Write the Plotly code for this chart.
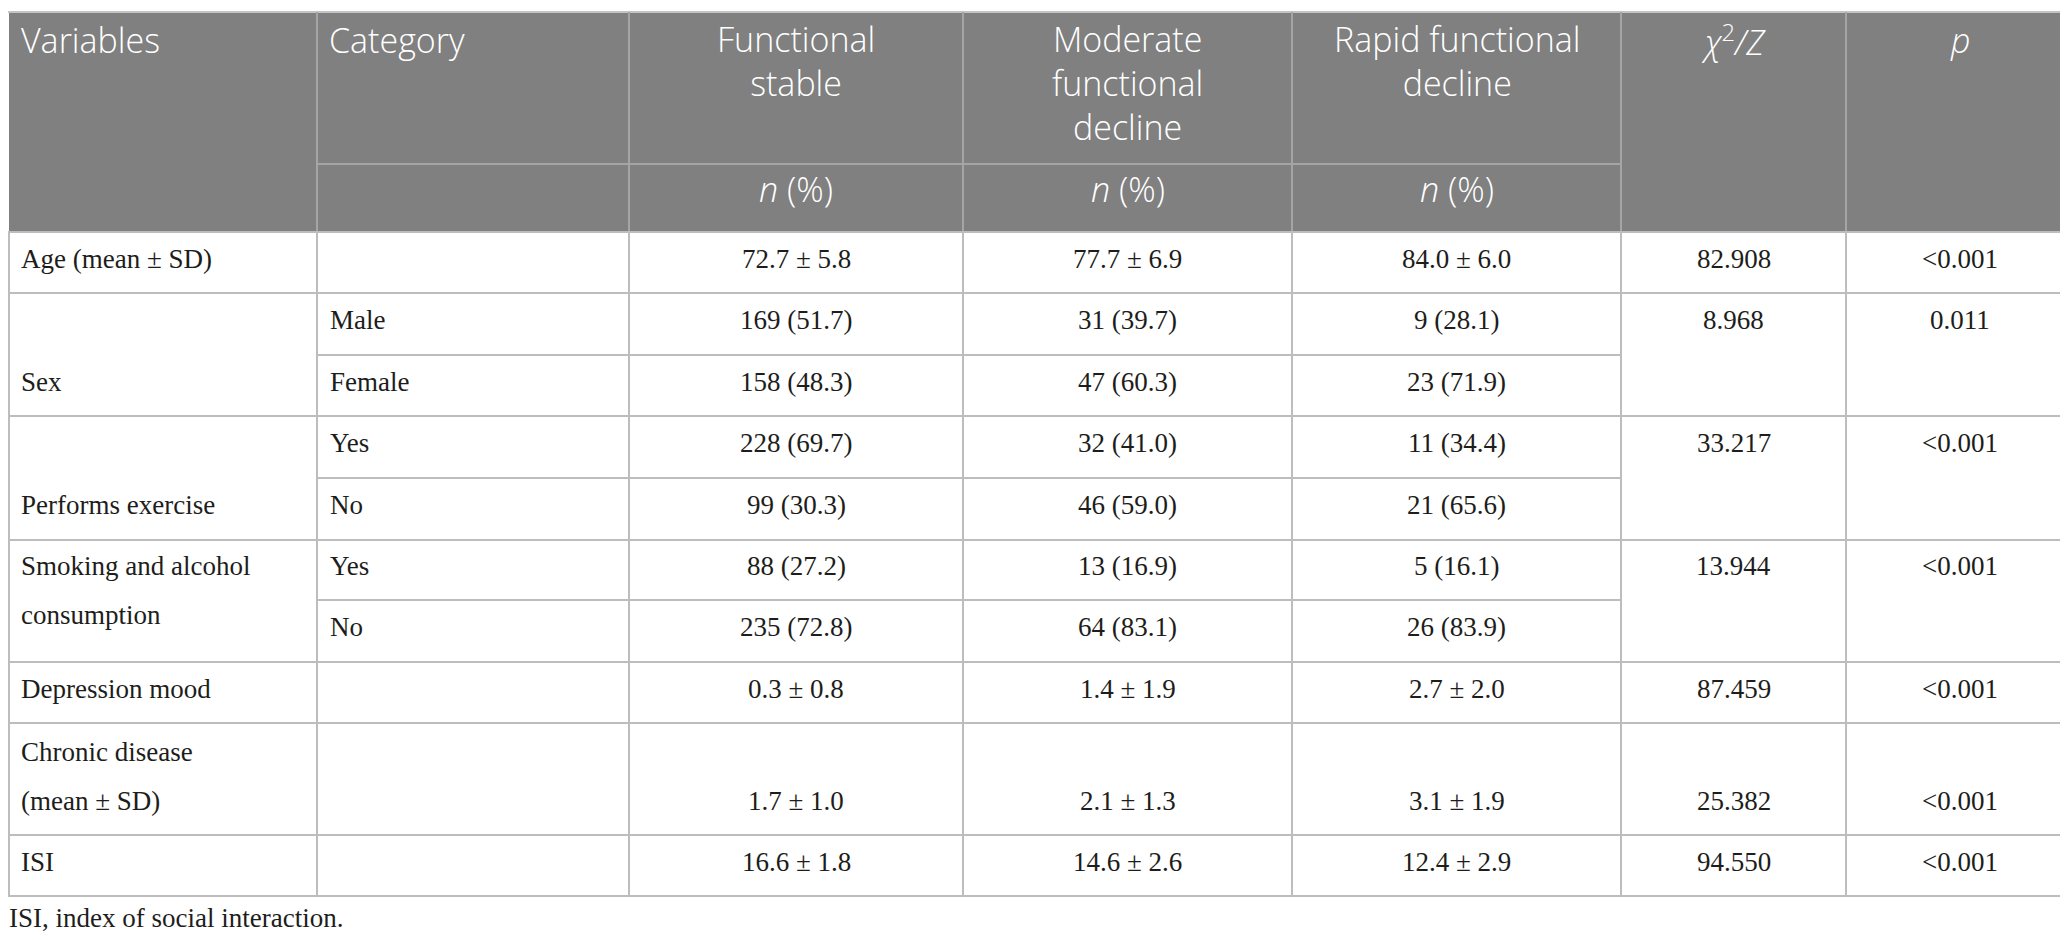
import plotly.graph_objects as go

# table content
variables = [
    "Age (mean ± SD)",
    "Sex",
    "Performs exercise",
    "Smoking and alcohol|consumption",
    "Depression mood",
    "Chronic disease|(mean ± SD)",
    "ISI",
]
categories = [
    [""],
    ["Male", "Female"],
    ["Yes", "No"],
    ["Yes", "No"],
    [""],
    [""],
    [""],
]
stable = ["72.7 ± 5.8", "169 (51.7)", "158 (48.3)", "228 (69.7)", "99 (30.3)",
          "88 (27.2)", "235 (72.8)", "0.3 ± 0.8", "1.7 ± 1.0", "16.6 ± 1.8"]
moderate = ["77.7 ± 6.9", "31 (39.7)", "47 (60.3)", "32 (41.0)", "46 (59.0)",
            "13 (16.9)", "64 (83.1)", "1.4 ± 1.9", "2.1 ± 1.3", "14.6 ± 2.6"]
rapid = ["84.0 ± 6.0", "9 (28.1)", "23 (71.9)", "11 (34.4)", "21 (65.6)",
         "5 (16.1)", "26 (83.9)", "2.7 ± 2.0", "3.1 ± 1.9", "12.4 ± 2.9"]
chi_z = ["82.908", "8.968", "33.217", "13.944", "87.459", "25.382", "94.550"]
p_values = ["<0.001", "0.011", "<0.001", "<0.001", "<0.001", "<0.001", "<0.001"]

headers = [
    "Variables",
    "Category",
    "Functional<br>stable",
    "Moderate<br>functional<br>decline",
    "Rapid functional<br>decline",
    "<i>χ</i><sup>2</sup><i>/Z</i>",
    "<i>p</i>",
]
sub_header = "<i>n</i> (%)"
footnote = "ISI, index of social interaction."

# geometry (pixels)
W, H = 2068, 940
col_x = [1, 309, 621, 955, 1284, 1613, 1838, 2066]
head_top, head_mid, head_bot = 4, 156, 224
row_heights = [61, 62, 61, 62, 62, 60, 62, 61, 112, 61]
line_gap = 49
pad_first, pad_cat = 10, 11

HEAD_BG = "#7f807f"
HEAD_LINE = "#a4a5a4"
BODY_LINE = "#bdbdbd"
TEXT = "#1d1d1b"
head_font = dict(family="Open Sans, Lato, sans-serif", size=34, color="white", weight=300)
body_font = dict(family="Liberation Serif, Times New Roman, serif", size=27, color=TEXT)

row_y = [head_bot]
for h in row_heights:
    row_y.append(row_y[-1] + h)

fig = go.Figure()
fig.add_trace(go.Scatter(x=[0, W], y=[0, H], mode="markers",
                         marker=dict(opacity=0), hoverinfo="skip", showlegend=False))

shapes = []
annotations = []


def hline(x0, x1, y, color):
    shapes.append(dict(type="line", x0=x0, x1=x1, y0=y, y1=y,
                       line=dict(color=color, width=2)))


def vline(x, y0, y1, color):
    shapes.append(dict(type="line", x0=x, x1=x, y0=y0, y1=y1,
                       line=dict(color=color, width=2)))


def text(x, y, s, font, align="center", valign="middle", xshift=0):
    if not s:
        return
    annotations.append(dict(x=x, y=y, text=s, showarrow=False, font=font,
                            xanchor=align, yanchor=valign, xshift=xshift))


def centre(c):
    return (col_x[c] + col_x[c + 1]) / 2


# header block
shapes.append(dict(type="rect", x0=col_x[0], x1=col_x[-1], y0=head_top, y1=head_bot,
                   fillcolor=HEAD_BG, line=dict(width=0), layer="below"))
hline(0, W, head_top, "#c4c4c4")
hline(col_x[1], col_x[5], head_mid, HEAD_LINE)
for x in col_x[1:-1]:
    vline(x, head_top, head_bot, HEAD_LINE)

for c, h in enumerate(headers):
    multi = "<br>" in h
    y, va = (6, "top") if multi else (32, "middle")
    if c < 2:
        text(col_x[c] + pad_first, y, h, head_font, "left", va)
    else:
        text(centre(c), y, h, head_font, "center", va)
for c in (2, 3, 4):
    text(centre(c), 181, sub_header, head_font)

# body grid
vline(col_x[0], head_bot, row_y[-1], BODY_LINE)
vline(col_x[-1], head_bot, row_y[-1], BODY_LINE)
for x in col_x[1:-1]:
    vline(x, head_bot, row_y[-1], BODY_LINE)

shift = -4
r = 0
for v, cats in enumerate(variables):
    n_sub = len(categories[v])
    top = row_y[r]
    hline(0, W, top, BODY_LINE)
    for s in range(1, n_sub):
        hline(col_x[1], col_x[5], row_y[r + s], BODY_LINE)

    lines = variables[v].split("|")
    tall = row_heights[r] > 80
    first_mid = (row_y[r] + row_y[r + 1]) / 2 + shift
    if tall:
        # two-line label in a single tall row, values on the lower line
        y_label = row_y[r] + 29
        y_vals = y_label + line_gap
    elif len(lines) > 1:
        y_label = first_mid
        y_vals = first_mid
    else:
        # single label sits on the last sub-row
        y_label = (row_y[r + n_sub - 1] + row_y[r + n_sub]) / 2 + shift
        y_vals = first_mid
    for k, part in enumerate(lines):
        text(col_x[0] + pad_first, y_label + k * line_gap, part, body_font, "left")

    for s in range(n_sub):
        ys = (row_y[r + s] + row_y[r + s + 1]) / 2 + shift if not tall else y_vals
        text(col_x[1] + pad_cat, ys, categories[v][s], body_font, "left")
        text(centre(2), ys, stable[r + s], body_font)
        text(centre(3), ys, moderate[r + s], body_font)
        text(centre(4), ys, rapid[r + s], body_font)
    text(centre(5), y_vals, chi_z[v], body_font)
    text(centre(6), y_vals, p_values[v], body_font)
    r += n_sub

hline(0, W, row_y[-1], BODY_LINE)
text(0, row_y[-1] + 22, footnote, body_font, "left", xshift=-1)

fig.update_layout(
    width=W,
    height=H,
    margin=dict(l=0, r=0, t=0, b=0),
    paper_bgcolor="white",
    plot_bgcolor="white",
    xaxis=dict(range=[0, W], visible=False, fixedrange=True),
    yaxis=dict(range=[H, 0], visible=False, fixedrange=True),
    shapes=shapes,
    annotations=annotations,
    showlegend=False,
)

fig.write_html("out.html")
